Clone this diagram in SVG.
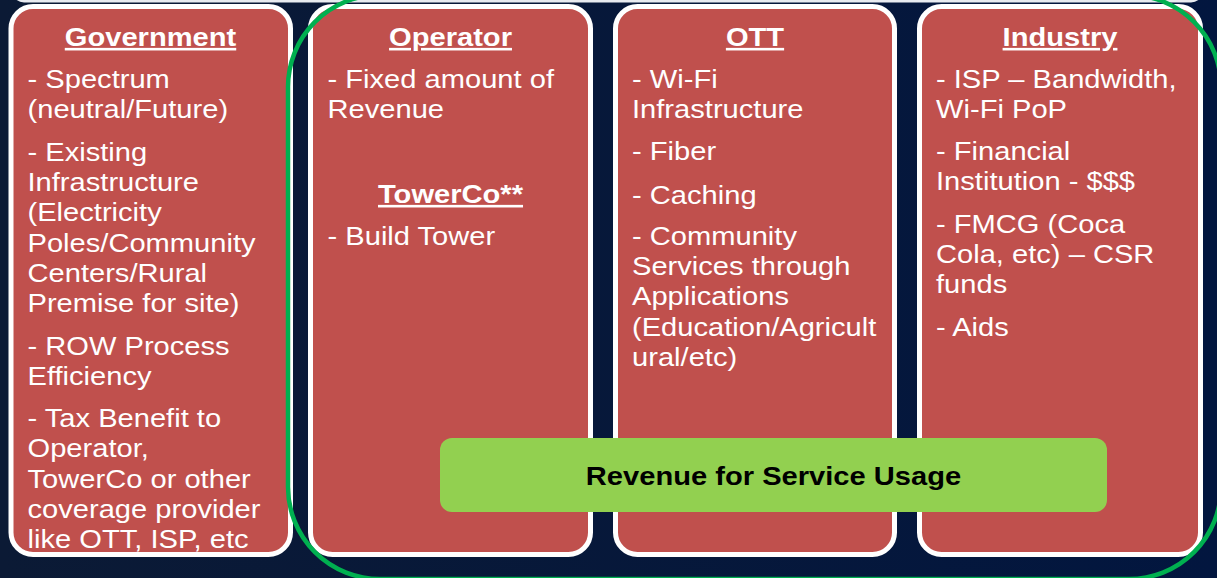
<svg xmlns="http://www.w3.org/2000/svg" width="1217" height="578" viewBox="0 0 1217 578">
<defs>
<style>
.bg{fill:url(#bgGrad)}
.box{fill:#c0504d}
.border{fill:none;stroke:#ffffff;stroke-width:5}
.t{font-family:"Liberation Sans",Arial,sans-serif;font-size:26px;fill:#ffffff}
.h{font-family:"Liberation Sans",Arial,sans-serif;font-size:26px;font-weight:bold;fill:#ffffff;text-anchor:middle;text-decoration:underline}
.g{font-family:"Liberation Sans",Arial,sans-serif;font-size:26px;font-weight:bold;fill:#000000;text-anchor:middle}
.ring{fill:none;stroke:#00b050;stroke-width:4.5}
</style>
<linearGradient id="bgGrad" x1="0" y1="0" x2="1" y2="0">
<stop offset="0" stop-color="#0b1a35"/>
<stop offset="1" stop-color="#02163f"/>
</linearGradient>
<clipPath id="c1"><rect x="13.5" y="9" width="274.5" height="543" rx="20"/></clipPath>
<clipPath id="c2"><rect x="313" y="9" width="275" height="543" rx="20"/></clipPath>
<clipPath id="c3"><rect x="618" y="9" width="274" height="543" rx="20"/></clipPath>
<clipPath id="c4"><rect x="922" y="9" width="276" height="543" rx="20"/></clipPath>
</defs>
<rect class="bg" x="0" y="0" width="1217" height="578"/>
<rect x="12" y="-30" width="1191" height="32.5" rx="12" fill="#e8ebf0"/>

<g id="government">
<rect class="box" x="11" y="6.5" width="279.5" height="548" rx="22"/>
<g clip-path="url(#c1)">
<g transform="translate(150.5,0) scale(1.12,1)"><text class="h" x="0" y="46">Government</text></g>
<g transform="translate(27.5,0) scale(1.12,1)">
<text class="t" x="0" y="88">- Spectrum</text>
<text class="t" x="0" y="118">(neutral/Future)</text>
<text class="t" x="0" y="161">- Existing</text>
<text class="t" x="0" y="191">Infrastructure</text>
<text class="t" x="0" y="221">(Electricity</text>
<text class="t" x="0" y="252">Poles/Community</text>
<text class="t" x="0" y="282">Centers/Rural</text>
<text class="t" x="0" y="312">Premise for site)</text>
<text class="t" x="0" y="355">- ROW Process</text>
<text class="t" x="0" y="385">Efficiency</text>
<text class="t" x="0" y="427">- Tax Benefit to</text>
<text class="t" x="0" y="457">Operator,</text>
<text class="t" x="0" y="488">TowerCo or other</text>
<text class="t" x="0" y="518">coverage provider</text>
<text class="t" x="0" y="548">like OTT, ISP, etc</text>
</g>
</g>
<rect class="border" x="11" y="6.5" width="279.5" height="548" rx="22"/>
</g>

<g id="operator">
<rect class="box" x="310.5" y="6.5" width="280" height="548" rx="22"/>
<g clip-path="url(#c2)">
<g transform="translate(450.5,0) scale(1.12,1)">
<text class="h" x="0" y="46">Operator</text>
<text class="h" x="0" y="203">TowerCo**</text>
</g>
<g transform="translate(327.5,0) scale(1.12,1)">
<text class="t" x="0" y="88">- Fixed amount of</text>
<text class="t" x="0" y="118">Revenue</text>
<text class="t" x="0" y="245">- Build Tower</text>
</g>
</g>
<rect class="border" x="310.5" y="6.5" width="280" height="548" rx="22"/>
</g>

<g id="ott">
<rect class="box" x="615.5" y="6.5" width="279" height="548" rx="22"/>
<g clip-path="url(#c3)">
<g transform="translate(755,0) scale(1.12,1)"><text class="h" x="0" y="46">OTT</text></g>
<g transform="translate(632,0) scale(1.12,1)">
<text class="t" x="0" y="88">- Wi-Fi</text>
<text class="t" x="0" y="118">Infrastructure</text>
<text class="t" x="0" y="160">- Fiber</text>
<text class="t" x="0" y="204">- Caching</text>
<text class="t" x="0" y="245">- Community</text>
<text class="t" x="0" y="275">Services through</text>
<text class="t" x="0" y="305">Applications</text>
<text class="t" x="0" y="336">(Education/Agricult</text>
<text class="t" x="0" y="366">ural/etc)</text>
</g>
</g>
<rect class="border" x="615.5" y="6.5" width="279" height="548" rx="22"/>
</g>

<g id="industry">
<rect class="box" x="919.5" y="6.5" width="281" height="548" rx="22"/>
<g clip-path="url(#c4)">
<g transform="translate(1060,0) scale(1.12,1)"><text class="h" x="0" y="46">Industry</text></g>
<g transform="translate(936,0) scale(1.12,1)">
<text class="t" x="0" y="88">- ISP – Bandwidth,</text>
<text class="t" x="0" y="118">Wi-Fi PoP</text>
<text class="t" x="0" y="160">- Financial</text>
<text class="t" x="0" y="190">Institution - $$$</text>
<text class="t" x="0" y="233">- FMCG (Coca</text>
<text class="t" x="0" y="263">Cola, etc) – CSR</text>
<text class="t" x="0" y="293">funds</text>
<text class="t" x="0" y="336">- Aids</text>
</g>
</g>
<rect class="border" x="919.5" y="6.5" width="281" height="548" rx="22"/>
</g>

<g id="connectors">
<rect class="ring" x="288" y="-5" width="933" height="584" rx="92"/>
</g>

<g id="revenue">
<rect x="440" y="438" width="667" height="74" rx="12" fill="#92d050"/>
<g transform="translate(773.5,0) scale(1.12,1)"><text class="g" x="0" y="485">Revenue for Service Usage</text></g>
</g>
</svg>
